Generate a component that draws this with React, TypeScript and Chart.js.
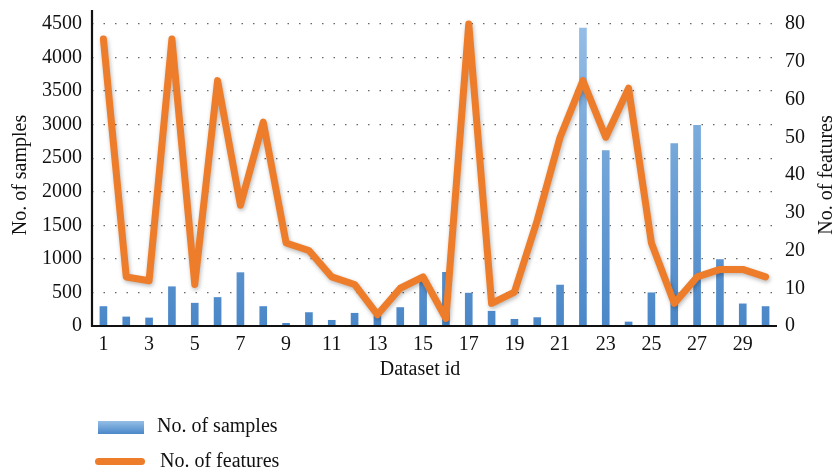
import React, { useEffect, useRef } from "react";
import { Chart, registerables } from "chart.js";

Chart.register(...registerables);

const datasetIds: string[] = Array.from({ length: 30 }, (_, i) => String(i + 1));

const samples: number[] = [
  290, 135, 120, 585, 340, 425, 795, 290, 40, 200,
  85, 190, 150, 275, 680, 800, 490, 220, 100, 125,
  610, 4440, 2615, 60, 495, 2720, 2990, 990, 330, 290,
];

const features: number[] = [
  76, 13, 12, 76, 11, 65, 32, 54, 22, 20,
  13, 11, 3, 10, 13, 2, 80, 6, 9, 28,
  50, 65, 50, 63, 22, 6, 13, 15, 15, 13,
];

const leftTicks: number[] = [0, 500, 1000, 1500, 2000, 2500, 3000, 3500, 4000, 4500];
const rightTicks: number[] = [0, 10, 20, 30, 40, 50, 60, 70, 80];

const xTitle = "Dataset id";
const leftTitle = "No. of samples";
const rightTitle = "No. of features";

const FONT = "'Liberation Serif', 'DejaVu Serif', serif";
const FS = 20;
const BLUE_TOP = "#95bee6";
const BLUE_BOTTOM = "#4a87c8";
const ORANGE = "#ee7d2b";

const lineShadow = {
  id: "lineShadow",
  beforeDatasetDraw(chart: any, args: any) {
    if (args.index !== 0) return;
    const ctx = chart.ctx;
    ctx.save();
    ctx.shadowColor = "rgba(0,0,0,0.28)";
    ctx.shadowBlur = 4;
    ctx.shadowOffsetX = 1;
    ctx.shadowOffsetY = 2;
  },
  afterDatasetDraw(chart: any, args: any) {
    if (args.index !== 0) return;
    chart.ctx.restore();
  },
};

const axisDecor = {
  id: "axisDecor",
  afterDatasetsDraw(chart: any) {
    const { ctx, chartArea } = chart;
    ctx.save();
    ctx.strokeStyle = "#111";
    ctx.lineWidth = 2.2;
    ctx.beginPath();
    ctx.moveTo(chartArea.left, chartArea.top - 14);
    ctx.lineTo(chartArea.left, chartArea.bottom);
    ctx.lineTo(chartArea.right, chartArea.bottom);
    ctx.stroke();

    ctx.fillStyle = "#111";
    ctx.font = `${FS}px ${FONT}`;
    ctx.textAlign = "center";
    ctx.textBaseline = "middle";
    ctx.fillText(xTitle, 420, 370);

    ctx.translate(827, (chartArea.top + chartArea.bottom) / 2);
    ctx.rotate(-Math.PI / 2);
    ctx.fillText(rightTitle, 0, 0);
    ctx.restore();
  },
};

export default function App() {
  const canvasRef = useRef<HTMLCanvasElement | null>(null);

  useEffect(() => {
    document.body.style.margin = "0";
    const canvas = canvasRef.current;
    if (!canvas) return;

    const barGradient = (context: any) => {
      const chart = context.chart;
      const area = chart.chartArea;
      if (!area) return BLUE_BOTTOM;
      const g = chart.ctx.createLinearGradient(0, area.top, 0, area.bottom);
      g.addColorStop(0, BLUE_TOP);
      g.addColorStop(1, BLUE_BOTTOM);
      return g;
    };

    const chart = new Chart(canvas, {
      type: "bar",
      data: {
        labels: datasetIds,
        datasets: [
          {
            type: "line",
            label: rightTitle,
            data: features,
            yAxisID: "y1",
            borderColor: ORANGE,
            backgroundColor: ORANGE,
            borderWidth: 7,
            pointRadius: 0,
            tension: 0,
            borderJoinStyle: "round",
            borderCapStyle: "round",
            clip: false,
            order: 0,
          } as any,
          {
            type: "bar",
            label: leftTitle,
            data: samples,
            yAxisID: "y",
            backgroundColor: barGradient,
            barThickness: 7,
            order: 1,
          } as any,
        ],
      },
      options: {
        animation: false,
        responsive: false,
        maintainAspectRatio: false,
        layout: { padding: { left: 0, right: 0, top: 24, bottom: 86 } },
        plugins: {
          legend: { display: false },
          tooltip: { enabled: false },
        },
        scales: {
          x: {
            offset: true,
            grid: { display: false, drawTicks: false },
            border: { display: false },
            ticks: {
              autoSkip: false,
              maxRotation: 0,
              padding: 7,
              color: "#111",
              font: { family: FONT, size: FS },
              callback: (_v: any, i: number) => (i % 2 === 0 ? datasetIds[i] : ""),
            },
            afterFit: (s: any) => {
              s.height = 60;
            },
          },
          y: {
            position: "left",
            min: 0,
            max: 4500,
            afterBuildTicks: (s: any) => {
              s.ticks = leftTicks.map((v) => ({ value: v }));
            },
            grid: {
              color: "#666",
              lineWidth: 1.3,
              drawTicks: false,
            },
            border: { display: false, dash: [1.5, 10] },
            ticks: {
              padding: 10,
              color: "#111",
              font: { family: FONT, size: FS },
              callback: (v: any) => String(v),
            },
            title: {
              display: true,
              text: leftTitle,
              color: "#111",
              font: { family: FONT, size: FS },
              padding: { top: 9, bottom: 0 },
            },
            afterFit: (s: any) => {
              s.width = 92;
            },
          },
          y1: {
            position: "right",
            min: 0,
            max: 80,
            afterBuildTicks: (s: any) => {
              s.ticks = rightTicks.map((v) => ({ value: v }));
            },
            grid: { display: false, drawTicks: false },
            border: { display: false },
            ticks: {
              padding: 8,
              color: "#111",
              font: { family: FONT, size: FS },
              callback: (v: any) => String(v),
            },
            afterFit: (s: any) => {
              s.width = 60;
            },
          },
        },
      } as any,
      plugins: [lineShadow, axisDecor],
    });

    return () => chart.destroy();
  }, []);

  const legendText: React.CSSProperties = {
    position: "absolute",
    fontFamily: FONT,
    fontSize: FS,
    color: "#111",
    lineHeight: "24px",
    whiteSpace: "nowrap",
  };

  return (
    <div style={{ position: "relative", width: 837, height: 472, background: "#fff" }}>
      <canvas ref={canvasRef} width={837} height={472} style={{ display: "block", width: 837, height: 472 }} />
      <div
        style={{
          position: "absolute",
          left: 98,
          top: 421,
          width: 46,
          height: 13,
          background: `linear-gradient(${BLUE_TOP}, ${BLUE_BOTTOM})`,
        }}
      />
      <div style={{ ...legendText, left: 157, top: 413 }}>{leftTitle}</div>
      <div
        style={{
          position: "absolute",
          left: 95,
          top: 458,
          width: 50,
          height: 7,
          borderRadius: 3.5,
          background: ORANGE,
        }}
      />
      <div style={{ ...legendText, left: 160, top: 448 }}>{rightTitle}</div>
    </div>
  );
}
